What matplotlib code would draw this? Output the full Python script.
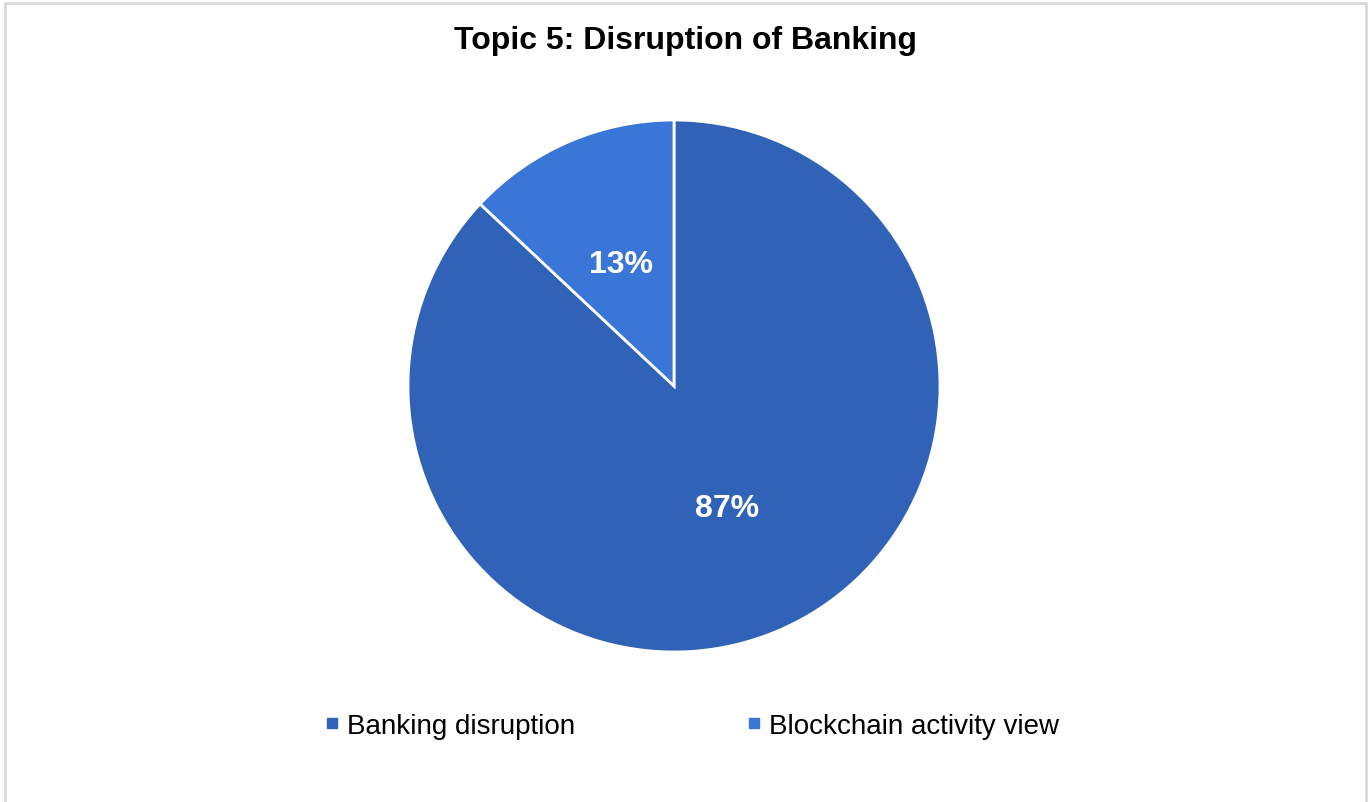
import matplotlib.pyplot as plt
from matplotlib.lines import Line2D
from matplotlib.patches import Rectangle

plt.rcParams['font.family'] = ['Liberation Sans', 'DejaVu Sans']

labels = ['Banking disruption', 'Blockchain activity view']
shares = [87, 13]
colors = ['#3063B8', '#3A75D8']

fig = plt.figure(figsize=(13.72, 8.03), dpi=100)

# light grey frame around the chart area
fig.patches.append(Rectangle((5 / 1372, -0.01), 1361 / 1372, 1.0 - 4 / 803 + 0.01,
                             transform=fig.transFigure, fill=False,
                             edgecolor='#D9D9D9', linewidth=2))

ax = fig.add_axes([408 / 1372, 150 / 803, 532 / 1372, 532 / 803])
wedges, texts = ax.pie(shares, colors=colors, startangle=90, counterclock=False,
                       labels=[f'{s}%' for s in shares], labeldistance=0.5,
                       wedgeprops=dict(edgecolor='white', linewidth=2),
                       textprops=dict(color='white', fontsize=23, fontweight='bold'))
for t in texts:
    t.set_ha('center')
    t.set_va('center')
ax.set_xlim(-1, 1)
ax.set_ylim(-1, 1)
ax.set_aspect('auto')

fig.text(0.5, 1 - 41 / 803, 'Topic 5: Disruption of Banking', ha='center', va='center',
         fontsize=23, fontweight='bold', color='black')

handles = [Line2D([], [], marker='s', linestyle='none', markersize=7, color=c) for c in colors]
fig.legend(handles, labels, loc='center', bbox_to_anchor=(692 / 1372, 1 - 727 / 803), ncol=2,
           frameon=False, fontsize=20, handlelength=0.5, handletextpad=0.3,
           columnspacing=6.2)

fig.savefig('out.png', dpi=100, facecolor='white')
